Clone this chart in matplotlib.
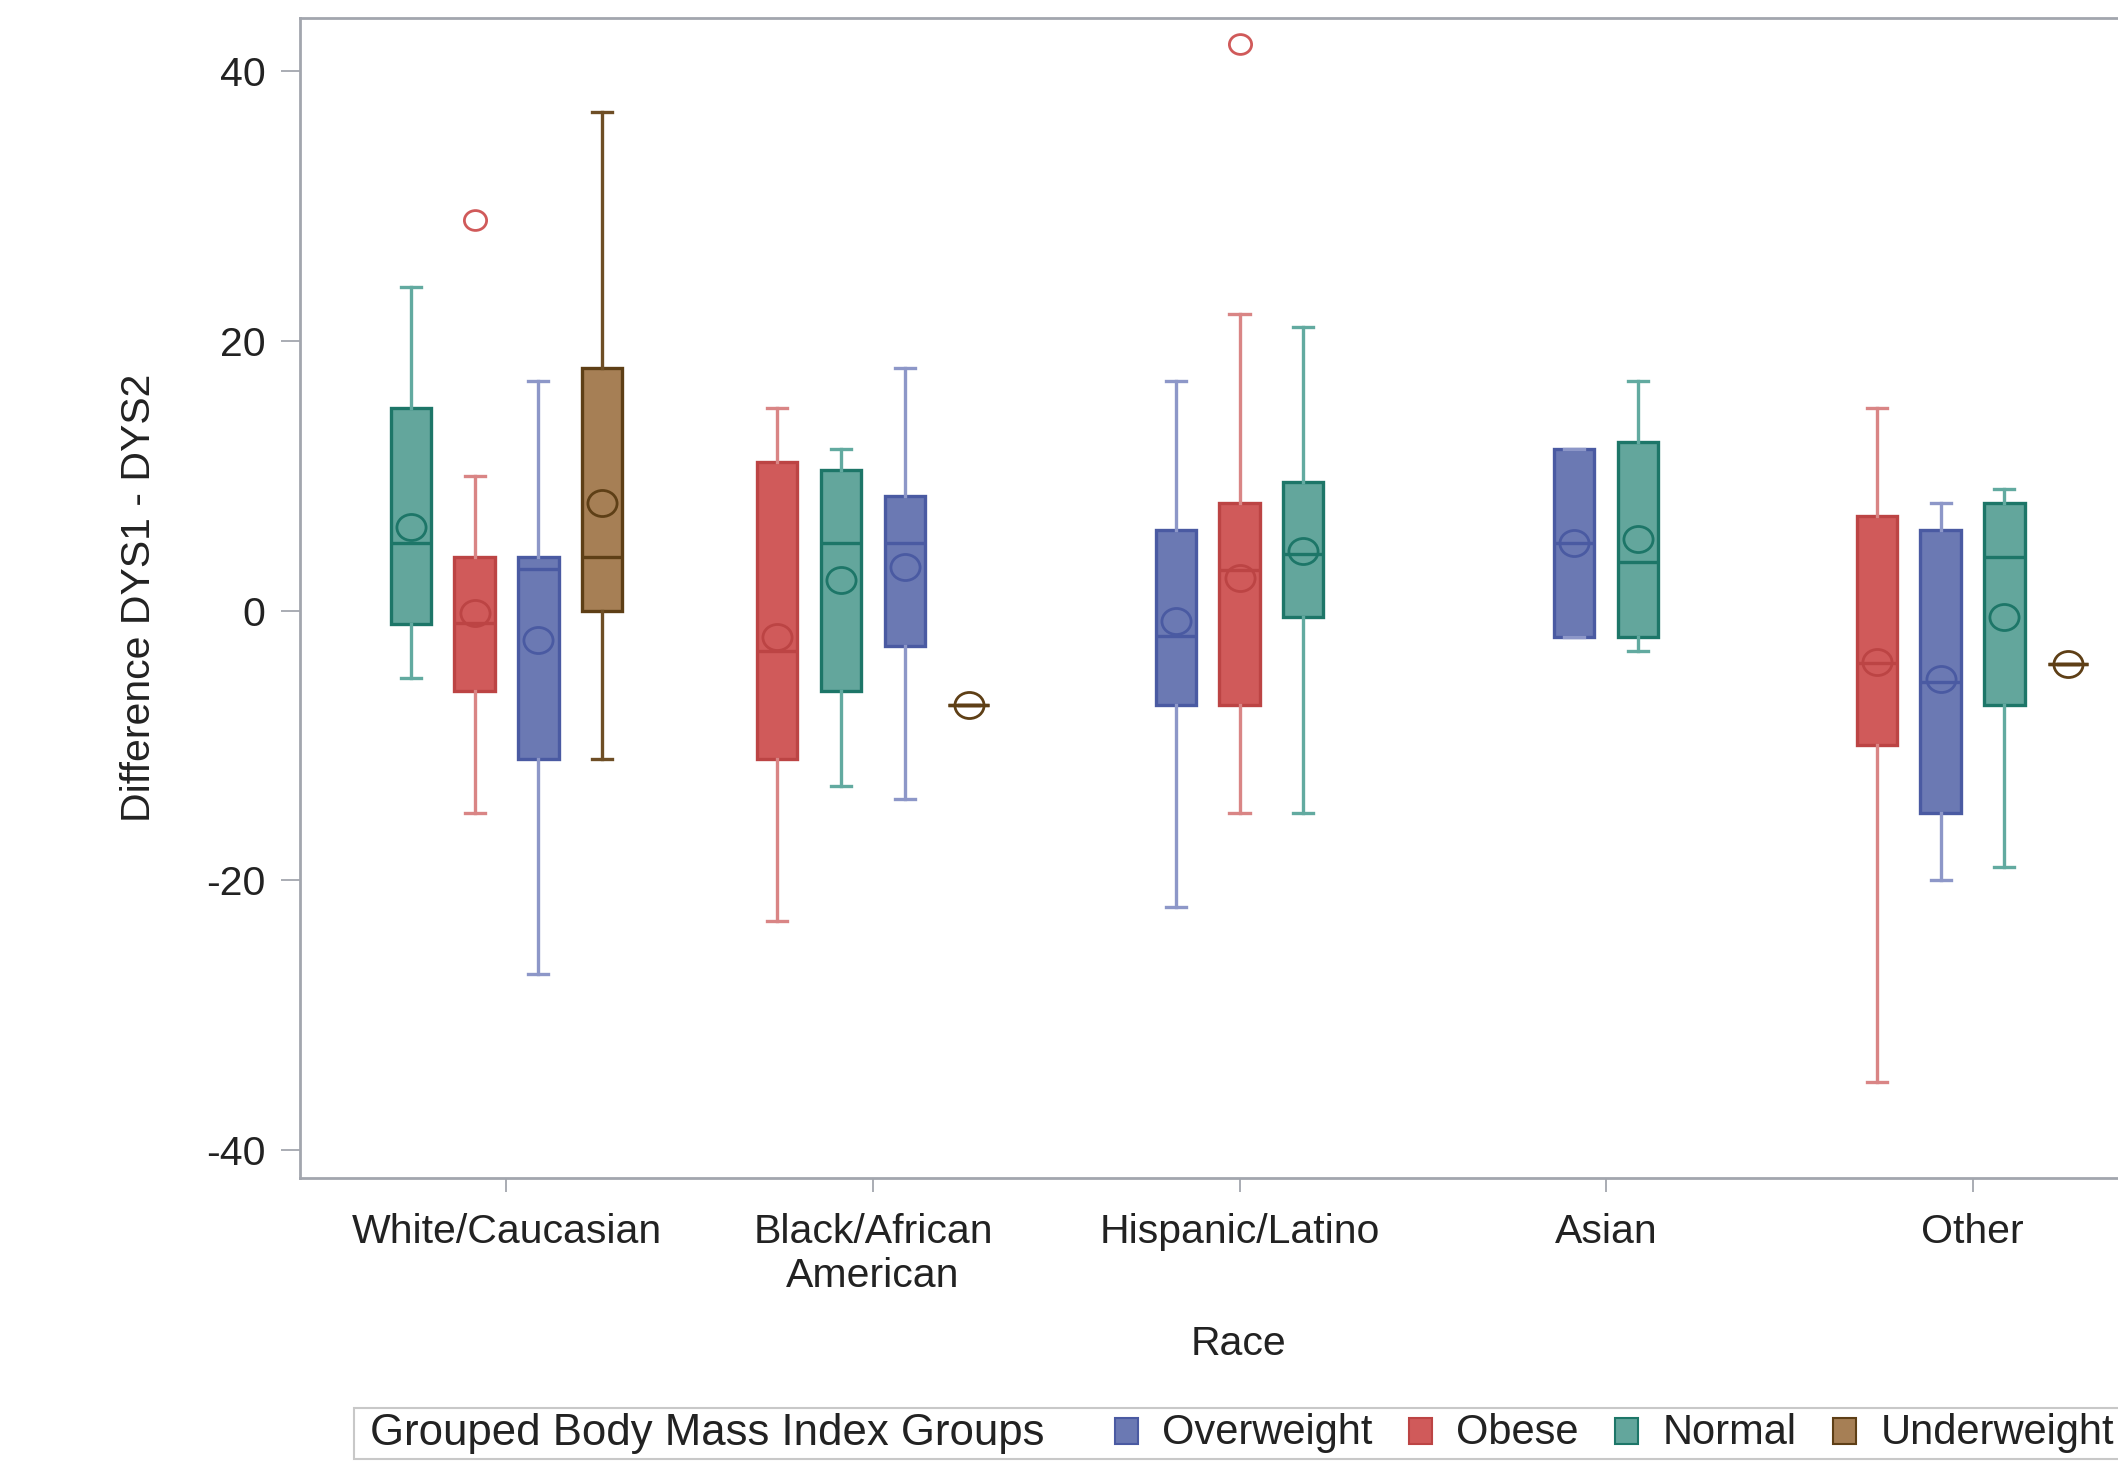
import matplotlib
matplotlib.use("Agg")
import matplotlib.pyplot as plt
from matplotlib.path import Path
from matplotlib.transforms import Affine2D
from matplotlib.patches import Rectangle

plt.rcParams['font.family'] = ['Liberation Sans', 'DejaVu Sans']
plt.rcParams['axes.unicode_minus'] = False

# ---------------- data ----------------
races = ["White/Caucasian", "Black/African\nAmerican", "Hispanic/Latino", "Asian", "Other"]
groups = ["Overweight", "Obese", "Normal", "Underweight"]

# order of the clustered boxes inside each race category (left -> right)
cluster_order = [
    ["Normal", "Obese", "Overweight", "Underweight"],
    ["Obese", "Normal", "Overweight", "Underweight"],
    ["Overweight", "Obese", "Normal"],
    ["Overweight", "Normal"],
    ["Obese", "Overweight", "Normal", "Underweight"],
]

# Overweight
overweight_whislo = [-27, -14, -22, -2, -20]
overweight_q1 = [-11, -2.6, -7, -2, -15]
overweight_med = [3.1, 5, -1.9, 5, -5.3]
overweight_q3 = [4, 8.5, 6, 12, 6]
overweight_whishi = [17, 18, 17, 12, 8]
overweight_mean = [-2.2, 3.2, -0.8, 5, -5.1]
overweight_fliers = [[], [], [], [], []]

# Obese
obese_whislo = [-15, -23, -15, None, -35]
obese_q1 = [-6, -11, -7, None, -10]
obese_med = [-0.9, -3, 3, None, -3.9]
obese_q3 = [4, 11, 8, None, 7]
obese_whishi = [10, 15, 22, None, 15]
obese_mean = [-0.2, -2, 2.4, None, -3.8]
obese_fliers = [[29], [], [42], [], []]

# Normal
normal_whislo = [-5, -13, -15, -3, -19]
normal_q1 = [-1, -6, -0.5, -2, -7]
normal_med = [5, 5, 4.2, 3.6, 4]
normal_q3 = [15, 10.4, 9.5, 12.5, 8]
normal_whishi = [24, 12, 21, 17, 9]
normal_mean = [6.2, 2.3, 4.4, 5.3, -0.5]
normal_fliers = [[], [], [], [], []]

# Underweight
underweight_whislo = [-11, -7, None, None, -4]
underweight_q1 = [0, -7, None, None, -4]
underweight_med = [4, -7, None, None, -4]
underweight_q3 = [18, -7, None, None, -4]
underweight_whishi = [37, -7, None, None, -4]
underweight_mean = [8, -7, None, None, -4]
underweight_fliers = [[], [], [], [], []]

stats_by_group = {
    "Overweight": (overweight_whislo, overweight_q1, overweight_med, overweight_q3,
                   overweight_whishi, overweight_mean, overweight_fliers),
    "Obese": (obese_whislo, obese_q1, obese_med, obese_q3, obese_whishi,
              obese_mean, obese_fliers),
    "Normal": (normal_whislo, normal_q1, normal_med, normal_q3, normal_whishi,
               normal_mean, normal_fliers),
    "Underweight": (underweight_whislo, underweight_q1, underweight_med,
                    underweight_q3, underweight_whishi, underweight_mean,
                    underweight_fliers),
}

# ---------------- style ----------------
fill_colors = {"Overweight": "#6B79B3", "Obese": "#D05A5A",
               "Normal": "#63A69C", "Underweight": "#A67F55"}
edge_colors = {"Overweight": "#4A5AA2", "Obese": "#BC4444",
               "Normal": "#1D7668", "Underweight": "#5E3F16"}
whisker_colors = {"Overweight": "#8D97C8", "Obese": "#D98585",
                  "Normal": "#62AAA0", "Underweight": "#6E4E25"}

W, H = 2118, 1462
fig = plt.figure(figsize=(W / 100, H / 100), dpi=100)
ax_left, ax_right, ax_top, ax_bottom = 300, 2179, 18, 1178
ax = fig.add_axes([ax_left / W, 1 - ax_bottom / H,
                   (ax_right - ax_left) / W, (ax_bottom - ax_top) / H])

ell = Path.unit_circle().transformed(Affine2D().scale(1.12, 1.0))

box_w = 0.11
step = 0.174
text_color = "#222222"

for g in groups:
    wl, q1, md, q3, wh, mn, fl = stats_by_group[g]
    stats, pos = [], []
    for i, order in enumerate(cluster_order):
        if g not in order or md[i] is None:
            continue
        k = order.index(g)
        n = len(order)
        pos.append(i + (k - (n - 1) / 2) * step)
        stats.append(dict(med=md[i], q1=q1[i], q3=q3[i], whislo=wl[i],
                          whishi=wh[i], mean=mn[i], fliers=fl[i], label=""))
    ax.bxp(stats, positions=pos, widths=box_w, capwidths=box_w * 0.5,
           patch_artist=True, showmeans=True, showfliers=True,
           manage_ticks=False,
           boxprops=dict(facecolor=fill_colors[g], edgecolor=edge_colors[g],
                         linewidth=2.4),
           medianprops=dict(color=edge_colors[g], linewidth=2.4),
           whiskerprops=dict(color=whisker_colors[g], linewidth=2.4),
           capprops=dict(color=whisker_colors[g], linewidth=2.4),
           meanprops=dict(marker=ell, markersize=21, markerfacecolor="none",
                          markeredgecolor=edge_colors[g], markeredgewidth=2.0),
           flierprops=dict(marker=ell, markersize=16, markerfacecolor="none",
                           markeredgecolor=fill_colors[g], markeredgewidth=2.0))

ax.set_xlim(-0.5634, 4.5634)
ax.set_ylim(-42.1, 43.96)
ax.set_yticks([-40, -20, 0, 20, 40])
ax.set_xticks(range(len(races)))
ax.set_xticklabels(races, linespacing=1.22)

spine_color = "#A2A6AE"
for s in ["top", "bottom", "left", "right"]:
    ax.spines[s].set_color(spine_color)
    ax.spines[s].set_linewidth(2.0)
ax.tick_params(axis="both", direction="out", width=1.3,
               color=spine_color, labelsize=29.5, labelcolor=text_color)
ax.tick_params(axis="x", length=10, pad=15)
ax.tick_params(axis="y", length=13.5, pad=11.5)

fig.text(139 / W, 1 - 598 / H, "Difference DYS1 - DYS2", rotation=90,
         ha="center", va="center", fontsize=29.5, color=text_color)
fig.text(1239 / W, 1 - 1344 / H, "Race", ha="center", va="center",
         fontsize=29.5, color=text_color)

# ---------------- legend (manual, SAS-like horizontal) ----------------
leg_top, leg_bot = 1408, 1459
fig.add_artist(Rectangle((354 / W, 1 - leg_bot / H), 1900 / W,
                         (leg_bot - leg_top) / H, transform=fig.transFigure,
                         facecolor="white", edgecolor="#C8C8C8", linewidth=1.5))
yc = 1 - 1433 / H
fig.canvas.draw()
renderer = fig.canvas.get_renderer()
t = fig.text(370 / W, yc, "Grouped Body Mass Index Groups", ha="left",
             va="center", fontsize=31.5, color=text_color)
x = t.get_window_extent(renderer).x1 + 70
sq_w, sq_h = 23, 26
for g in groups:
    fig.add_artist(Rectangle((x / W, 1 - 1444 / H), sq_w / W, sq_h / H,
                             transform=fig.transFigure,
                             facecolor=fill_colors[g], edgecolor=edge_colors[g],
                             linewidth=1.5))
    lt = fig.text((x + sq_w + 24) / W, yc, g, ha="left", va="center",
                  fontsize=30, color=text_color)
    x = lt.get_window_extent(renderer).x1 + 37

fig.savefig("out.png", dpi=100)
